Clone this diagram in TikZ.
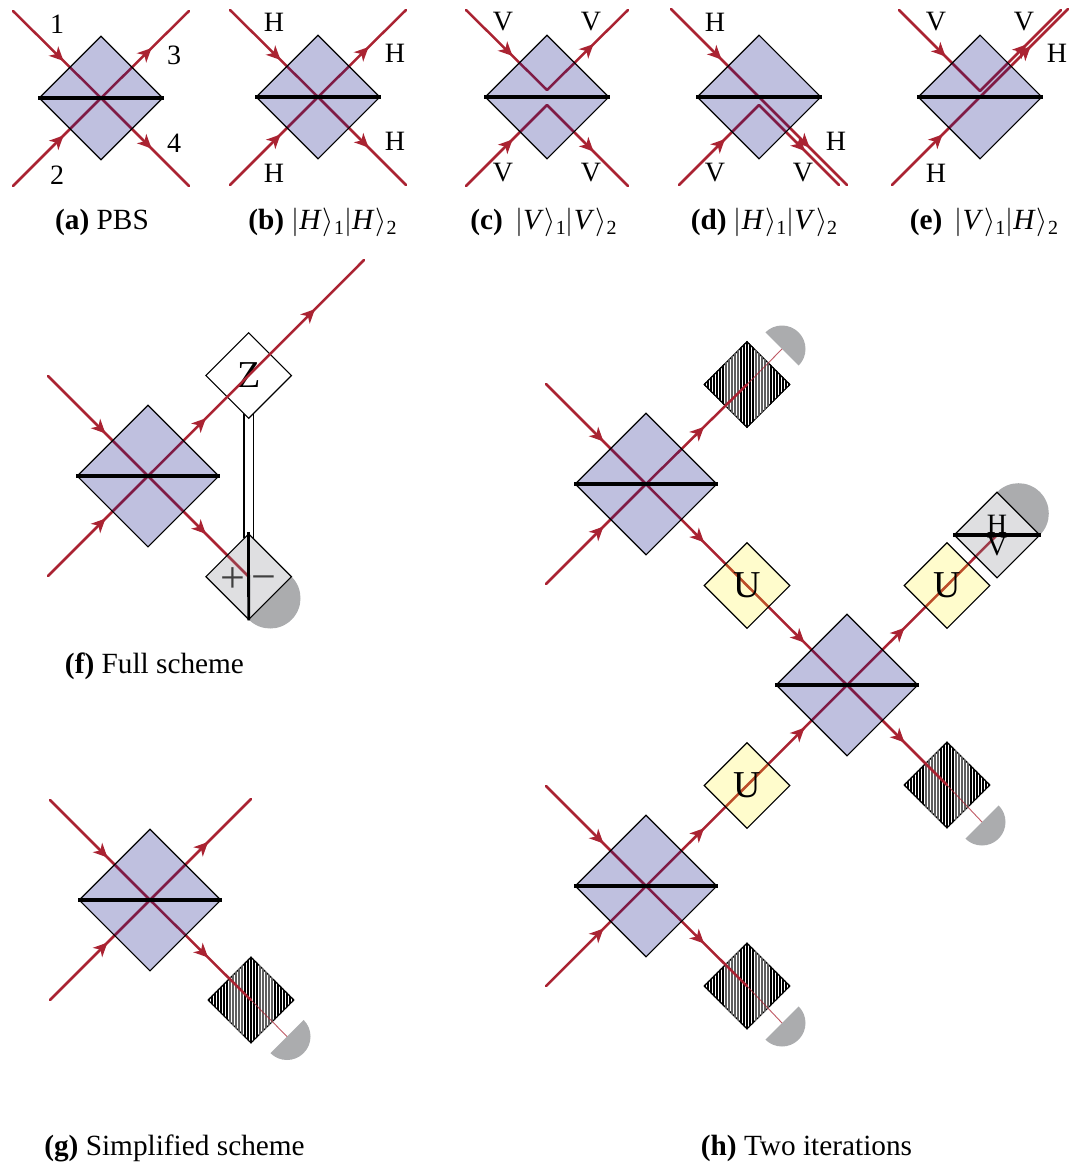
\documentclass[tikz,border=0pt]{standalone}
\usepackage{graphicx}
\usepackage{fontspec}
\setmainfont{Liberation Serif}
\usetikzlibrary{shapes.geometric,arrows.meta,decorations.markings}
\pgfdeclarelayer{bottom}\pgfdeclarelayer{under}\pgfdeclarelayer{beams}
\pgfsetlayers{bottom,under,beams,main}
\definecolor{beamred}{RGB}{170,35,50}
\definecolor{semigray}{RGB}{171,172,174}
\definecolor{hatchgray}{RGB}{95,95,95}
\newcommand{\fsz}[1]{\fontsize{#1}{#1}\selectfont}
\newcommand{\mket}[2]{\scalebox{1.15}{$|$}\textit{#1}\hspace{1pt}\scalebox{1.15}{$\rangle$}\raisebox{-5pt}{\fsz{20}#2}}
\newcommand{\hatchbox}[1]{%
  \begin{scope}
    \clip (#1.north)--(#1.east)--(#1.south)--(#1.west)--cycle;
    \foreach \dx in {-14,-13,-12,-11,-10,-9,-8,-2,-1,0,1,2,8,9,10,11,12,13,14}{
      \draw[hatchline] ([xshift=\dx*3pt,yshift=-50pt]#1.center) -- ([xshift=\dx*3pt,yshift=50pt]#1.center);
    }
    \foreach \dx in {-7,-6,-5,-4,-3,3,4,5,6,7}{
      \draw[hatchgrayline] ([xshift=\dx*3pt,yshift=-50pt]#1.center) -- ([xshift=\dx*3pt,yshift=50pt]#1.center);
    }
  \end{scope}%
}
\newcommand{\semi}[2]{% centre coordinate, direction angle of the bulge
  \fill[semigray] (#1) ++(#2+90:23.5pt) arc[start angle=#2+90, end angle=#2-90, radius=23.5pt] -- cycle;
}
\newcommand{\bigsemi}[2]{%
  \fill[semigray] (#1) ++(#2+90:30.3pt) arc[start angle=#2+90, end angle=#2-90, radius=30.3pt] -- cycle;
}
\tikzset{
  cube/.style={diamond,aspect=1,inner sep=0pt,draw=black,line width=1.1pt,text=black},
  pbssmall/.style={cube,minimum size=124pt,fill={rgb,255:red,0;green,4;blue,126},fill opacity=.25,text opacity=1},
  pbsbig/.style={pbssmall,minimum size=142pt},
  ubox/.style={cube,minimum size=86pt,fill={rgb,255:red,255;green,240;blue,0},fill opacity=.2,text opacity=1,font=\fsz{38}},
  measbox/.style={cube,minimum size=86pt,fill={rgb,255:red,130;green,132;blue,140},fill opacity=.26,text opacity=1},
  zbox/.style={cube,minimum size=86pt,fill=white,font=\fsz{38}},
  hatchbox/.style={cube,minimum size=86pt},
  hatchline/.style={line width=1.5pt,black},
  hatchgrayline/.style={line width=2.4pt,hatchgray},
  splitter/.style={draw=black,line width=3.4pt},
  beamplain/.style={line width=2.5pt,beamred,line cap=round,line join=miter},
  beam/.style={beamplain,postaction={decorate},decoration={markings,mark=at position .575 with {\arrow{Stealth[length=14pt,width=13pt,inset=4pt]}}}},
  thinbeam/.style={line width=.9pt,beamred,opacity=.75},
  lab/.style={font=\fsz{28},inner sep=0pt,text=black},
  capt/.style={font=\fsz{29.3},inner sep=0pt,text=black,anchor=base},
  dbl/.style={double=white,double distance=8pt,line width=1.6pt,black},
}
\begin{document}
\begin{tikzpicture}[x=1pt,y=-1pt]
\useasboundingbox (0,0) rectangle (1085,1162);

% ---- (a)
\node[pbssmall] (a) at (101,98) {};
\draw[splitter] (a.west)--(a.east);
\coordinate (a1) at (13,11); \coordinate (a2) at (13,186);
\coordinate (a3) at (189,11); \coordinate (a4) at (189,186);
\begin{pgfonlayer}{beams}
\draw[beam] (a1)--(a.center); \draw[beam] (a2)--(a.center);
\draw[beam] (a.center)--(a3); \draw[beam] (a.center)--(a4);
\end{pgfonlayer}
\node[lab] (al1) at (57,24) {1}; \node[lab] (al3) at (174,55) {3};
\node[lab] (al2) at (57,175) {2}; \node[lab] (al4) at (174,143) {4};
\node[capt] (acap) at (102,229) {\textbf{(a)} PBS};

% ---- (b)
\node[pbssmall] (b) at (318,97) {};
\draw[splitter] (b.west)--(b.east);
\coordinate (b1) at (230,10); \coordinate (b2) at (230,185);
\coordinate (b3) at (406,10); \coordinate (b4) at (406,185);
\begin{pgfonlayer}{beams}
\draw[beam] (b1)--(b.center); \draw[beam] (b2)--(b.center);
\draw[beam] (b.center)--(b3); \draw[beam] (b.center)--(b4);
\end{pgfonlayer}
\node[lab] (bl1) at (274,22) {H}; \node[lab] (bl3) at (395,53) {H};
\node[lab] (bl2) at (274,173) {H}; \node[lab] (bl4) at (395,141) {H};
\node[capt] (bcap) at (322.5,229) {\textbf{(b)} \mket{H}{1}\mket{H}{2}};

% ---- (c)
\node[pbssmall] (c) at (547,97) {};
\draw[splitter] (c.west)--(c.east);
\coordinate (c1) at (466,10); \coordinate (c2) at (466,186);
\coordinate (c3) at (628,10); \coordinate (c4) at (628,186);
\coordinate (cu) at (547,90); \coordinate (cd) at (547,105);
\begin{pgfonlayer}{beams}
\draw[beam] (c1)--(cu); \draw[beam] (cu)--(c3);
\draw[beam] (c2)--(cd); \draw[beam] (cd)--(c4);
\end{pgfonlayer}
\node[lab] (cl1) at (503,22) {V}; \node[lab] (cl3) at (591,22) {V};
\node[lab] (cl2) at (503,173) {V}; \node[lab] (cl4) at (591,173) {V};
\node[capt] (ccap) at (543.5,229) {\textbf{(c)}\, \mket{V}{1}\mket{V}{2}};

% ---- (d)
\node[pbssmall] (d) at (759,97) {};
\draw[splitter] (d.west)--(d.east);
\coordinate (d1) at (671,9); \coordinate (d2) at (679,185);
\coordinate (d3) at (847,185); \coordinate (d4) at (839,185);
\coordinate (dd) at (759,105);
\begin{pgfonlayer}{beams}
\draw[beam] (d1)--(d.center); \draw[beam] (d.center)--(d3);
\draw[beam] (d2)--(dd); \draw[beam] (dd)--(d4);
\end{pgfonlayer}
\node[lab] (dl1) at (715,22) {H}; \node[lab] (dl3) at (836,141) {H};
\node[lab] (dl2) at (715,173) {V}; \node[lab] (dl4) at (803,173) {V};
\node[capt] (dcap) at (764,229) {\textbf{(d)} \mket{H}{1}\mket{V}{2}};

% ---- (e)
\node[pbssmall] (e) at (980,97) {};
\draw[splitter] (e.west)--(e.east);
\coordinate (e1) at (899,10); \coordinate (e2) at (892,185);
\coordinate (e3) at (1061,10); \coordinate (e4) at (1068,9);
\coordinate (eu) at (980,91);
\begin{pgfonlayer}{beams}
\draw[beam] (e1)--(eu); \draw[beam] (eu)--(e3);
\draw[beam] (e2)--(e.center); \draw[beam] (e.center)--(e4);
\end{pgfonlayer}
\node[lab] (el1) at (936,22) {V}; \node[lab] (el3) at (1024,22) {V};
\node[lab] (el2) at (936,173) {H}; \node[lab] (el4) at (1057,53) {H};
\node[capt] (ecap) at (984,229) {\textbf{(e)}\, \mket{V}{1}\mket{H}{2}};

% ---- (f)
\node[pbsbig] (f) at (148,476) {};
\draw[splitter] (f.west)--(f.east);
\begin{pgfonlayer}{under}
\node[zbox] (fz) at (248.7,375.5) {Z};
\end{pgfonlayer}
\node[measbox] (fm) at (248.7,576.7) {};
\begin{pgfonlayer}{bottom}
\draw[dbl] (fz.center) -- ([yshift=-5pt]fm.north);
\coordinate (fsemi) at (270.2,598.2);
\bigsemi{fsemi}{-45}
\end{pgfonlayer}
\draw[line width=2.8pt,black] (248.5,532) -- (fm.south);
\node[font=\fsz{44},inner sep=0pt,text=black!75] (fplus) at (232.5,580) {+};
\node[font=\fsz{44},inner sep=0pt,text=black!75] (fminus) at (264,584) {−};
\coordinate (f1) at (48,376); \coordinate (f2) at (48,576); \coordinate (fend) at (364,260);
\begin{pgfonlayer}{beams}
\draw[beam] (f1)--(f.center); \draw[beam] (f2)--(f.center);
\draw[beam] (f.center)--(fz.center); \draw[beam] (fz.center)--(fend);
\draw[beam] (f.center)--(fm.center);
\end{pgfonlayer}
\node[capt] (fcap) at (154.5,673) {\textbf{(f)} Full scheme};

% ---- (g)
\node[pbsbig] (g) at (150,900) {};
\draw[splitter] (g.west)--(g.east);
\begin{pgfonlayer}{under}
\node[hatchbox] (gd) at (251,1000) {};
\hatchbox{gd}
\end{pgfonlayer}
\coordinate (g1) at (50,800); \coordinate (g2) at (50,1000); \coordinate (g3) at (251,799);
\coordinate (gs) at (287,1036.5);
\begin{pgfonlayer}{bottom}\semi{gs}{-45}\end{pgfonlayer}
\begin{pgfonlayer}{beams}
\draw[beam] (g1)--(g.center); \draw[beam] (g2)--(g.center); \draw[beam] (g.center)--(g3);
\draw[beam] (g.center)--(gd.center);
\draw[thinbeam] (gd.center)--(gs);
\end{pgfonlayer}
\node[capt] (gcap) at (174.5,1155) {\textbf{(g)} Simplified scheme};

% ---- (h)
\node[pbsbig] (h1) at (646,484) {};
\node[pbsbig] (h2) at (646,886) {};
\node[pbsbig] (h3) at (847,685) {};
\draw[splitter] (h1.west)--(h1.east);
\draw[splitter] (h2.west)--(h2.east);
\draw[splitter] (h3.west)--(h3.east);
\node[ubox] (u1) at (747,585.5) {U};
\node[ubox] (u2) at (947,585.5) {U};
\node[ubox] (u3) at (747,785.5) {U};
\begin{pgfonlayer}{under}
\node[hatchbox] (k1) at (747,384.5) {}; \hatchbox{k1}
\node[hatchbox] (k2) at (947,785) {}; \hatchbox{k2}
\node[hatchbox] (k3) at (747,986) {}; \hatchbox{k3}
\end{pgfonlayer}
\node[measbox] (hm) at (997,535) {};
\draw[splitter] (hm.west)--(hm.east);
\node[lab] (hmh) at (997,524) {H};
\node[lab] (hmv) at (997,547) {V};
\coordinate (hs1) at (782,349); \coordinate (hs2) at (982,822); \coordinate (hs3) at (782,1023);
\coordinate (hsm) at (1018.5,513.5);
\begin{pgfonlayer}{bottom}
\semi{hs1}{45} \semi{hs2}{-45} \semi{hs3}{-45}
\bigsemi{hsm}{45}
\end{pgfonlayer}
\coordinate (h11) at (546,384); \coordinate (h12) at (546,584);
\coordinate (h21) at (546,786); \coordinate (h22) at (546,986);
\begin{pgfonlayer}{beams}
\draw[beam] (h11)--(h1.center); \draw[beam] (h12)--(h1.center);
\draw[beam] (h21)--(h2.center); \draw[beam] (h22)--(h2.center);
\draw[beam] (h1.center)--(k1.center); \draw[thinbeam] (k1.center)--(hs1);
\draw[beam] (h1.center)--(u1.center); \draw[beam] (u1.center)--(h3.center);
\draw[beam] (h2.center)--(u3.center); \draw[beam] (u3.center)--(h3.center);
\draw[beam] (h2.center)--(k3.center); \draw[thinbeam] (k3.center)--(hs3);
\draw[beam] (h3.center)--(u2.center); \draw[beamplain] (u2.center)--(hm.center);
\draw[beam] (h3.center)--(k2.center); \draw[thinbeam] (k2.center)--(hs2);
\end{pgfonlayer}
\node[capt] (hcap) at (806.5,1155) {\textbf{(h)} Two iterations};
\end{tikzpicture}
\end{document}
